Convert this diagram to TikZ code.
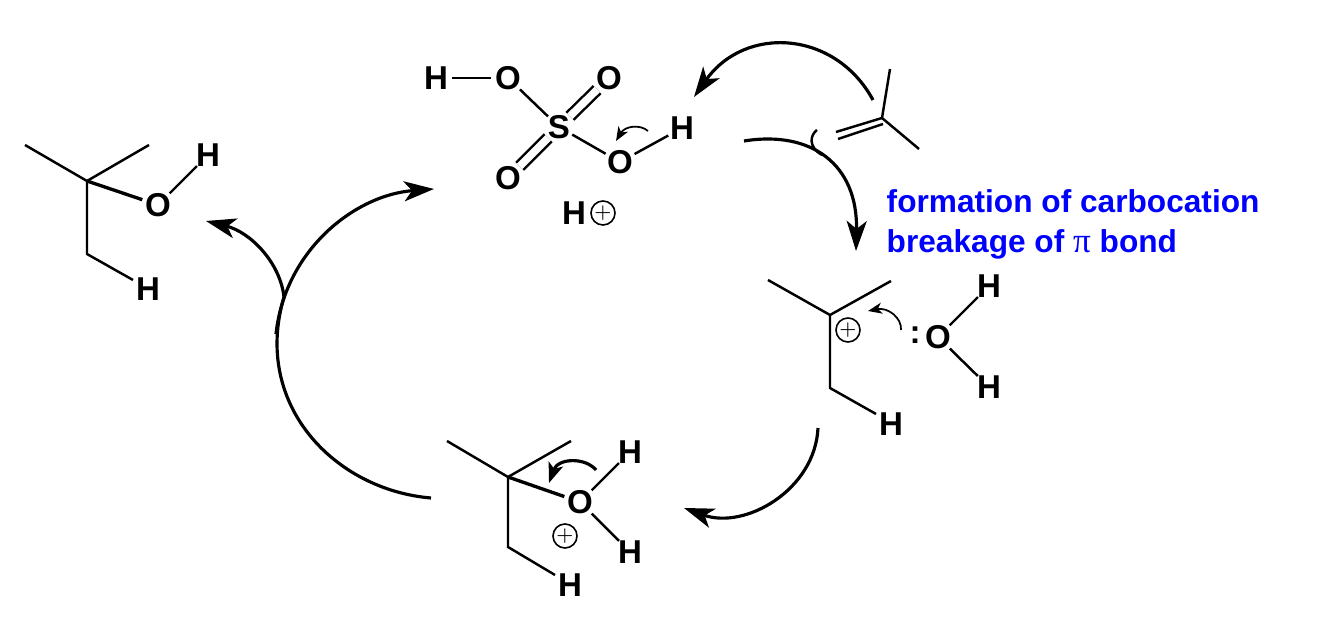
\documentclass[tikz,border=0pt]{standalone}
\usepackage{fontspec}
\setmainfont{Liberation Sans}
\newfontfamily\greekfont{Liberation Serif}
\usetikzlibrary{arrows.meta}
\begin{document}
\begin{tikzpicture}[x=0.01cm,y=-0.01cm,
  atom/.style={circle,inner sep=-0.3pt,font=\fontsize{9.4}{10}\selectfont\bfseries},
  charge/.style={draw,circle,inner sep=0pt,minimum size=0.24cm,line width=0.45pt,font=\fontsize{5.5}{6}\selectfont},
  note/.style={anchor=base west,inner sep=0pt,text=blue,font=\fontsize{9}{10}\selectfont\bfseries},
  bond/.style={line width=0.7pt},
  heavy/.style={line width=0.95pt},
  push/.style={line width=0.9pt,-{Stealth[length=0.3cm,width=0.2cm,inset=0.08cm]}},
  nudge/.style={line width=0.5pt,-{Stealth[length=0.14cm,width=0.11cm,inset=0.04cm]}}]
\useasboundingbox (0,0) rectangle (1330,628);
\node[atom] (h1) at (436,78) {H};
\node[atom] (o1) at (508,78) {O};
\node[atom] (o2) at (609,78) {O};
\node[atom] (s) at (559,127) {S};
\node[atom] (o3) at (508,178) {O};
\node[atom] (o4) at (620,162) {O};
\node[atom] (h2) at (682,128) {H};
\node[atom] (h3) at (574,213) {H};
\node[charge] (p1) at (603,213) {$+$};
\coordinate (i0) at (882,118);
\coordinate (i1) at (890,69);
\coordinate (i2) at (919,149);
\coordinate (i3) at (836,132);
\coordinate (i4) at (838,139);
\coordinate (i5) at (883,124);
\node[note] (t1) at (886,213) {formation of carbocation};
\node[note] (t2) at (886,253) {breakage of {\greekfont\mdseries\fontsize{10}{10}\selectfont π} bond};
\coordinate (c0) at (830,315);
\coordinate (c1) at (768,280);
\coordinate (c2) at (891,281);
\coordinate (c3) at (830,388);
\coordinate (c4) at (876,414);
\node[atom] (h4) at (891,424) {H};
\node[charge] (p2) at (848,330) {$+$};
\node[atom] (col) at (915,335) {:};
\node[atom] (o5) at (938,337) {O};
\node[atom] (h5) at (989,286) {H};
\node[atom] (h6) at (989,387) {H};
\coordinate (d0) at (508,477);
\coordinate (d1) at (447,441);
\coordinate (d2) at (571,441);
\coordinate (d3) at (508,547);
\coordinate (d4) at (555,575);
\node[atom] (h7) at (570,585) {H};
\node[atom] (o6) at (580,502) {O};
\node[atom] (h8) at (630,452) {H};
\node[atom] (h9) at (630,552) {H};
\node[charge] (p3) at (565,536) {$+$};
\coordinate (e0) at (87,181);
\coordinate (e1) at (25,145);
\coordinate (e2) at (149,145);
\coordinate (e3) at (87,254);
\coordinate (e4) at (133,280);
\node[atom] (h10) at (148,289) {H};
\node[atom] (o7) at (158,205) {O};
\node[atom] (h11) at (208,155) {H};
\draw[bond](h1)--(o1);
\draw[bond](o1)--(s)--(o4)--(h2);
\draw[bond,double,double distance=0.075cm](s)--(o2);
\draw[bond,double,double distance=0.075cm](s)--(o3);
\draw[bond](i1)--(i0)--(i2);
\draw[bond](i3)--(i0);
\draw[bond](i4)--(i5);
\draw[bond](c1)--(c0)--(c2);
\draw[bond](c0)--(c3)--(c4);
\draw[bond](h5)--(o5)--(h6);
\draw[bond](d1)--(d0)--(d2);
\draw[bond](d0)--(d3)--(d4);
\draw[heavy](d0)--(o6);
\draw[bond](h8)--(o6)--(h9);
\draw[bond](e1)--(e0)--(e2);
\draw[bond](e0)--(e3)--(e4);
\draw[heavy](e0)--(o7);
\draw[bond](o7)--(h11);
\coordinate (a1) at (873,100);
\coordinate (a2) at (694,97);
\coordinate (a3) at (744,141);
\coordinate (a4) at (856,251);
\coordinate (a5) at (818,428);
\coordinate (a6) at (684,508);
\coordinate (a7) at (431,498);
\coordinate (a8) at (284,297);
\coordinate (a9) at (276,334);
\coordinate (a10) at (434,189);
\coordinate (a11) at (284,297);
\coordinate (a12) at (206,221);
\coordinate (b1) at (648,131);
\coordinate (b2) at (616,141);
\coordinate (b3) at (901,330);
\coordinate (b4) at (868,311);
\coordinate (b5) at (596,470);
\coordinate (b6) at (549,483);
\coordinate (b7) at (817,130);
\coordinate (b8) at (822,155);
\draw[push](a1) .. controls (835,30) and (745,25) .. (a2);
\draw[push](a3) .. controls (812,130) and (858,165) .. (a4);
\draw[push](a5) .. controls (815,490) and (745,530) .. (a6);
\draw[line width=0.9pt](a7) .. controls (335,490) and (252,405) .. (a8);
\draw[push](a9) .. controls (285,250) and (355,195) .. (a10);
\draw[push](a11) .. controls (280,262) and (250,232) .. (a12);
\draw[nudge](b1) .. controls (640,124) and (625,126) .. (b2);
\draw[nudge](b3) .. controls (902,318) and (888,307) .. (b4);
\draw[line width=0.9pt,-{Stealth[length=0.2cm,width=0.15cm,inset=0.05cm]}](b5) .. controls (585,457) and (558,458) .. (b6);
\draw[bond](b7) .. controls (810,135) and (808,147) .. (b8);
\end{tikzpicture}
\end{document}
